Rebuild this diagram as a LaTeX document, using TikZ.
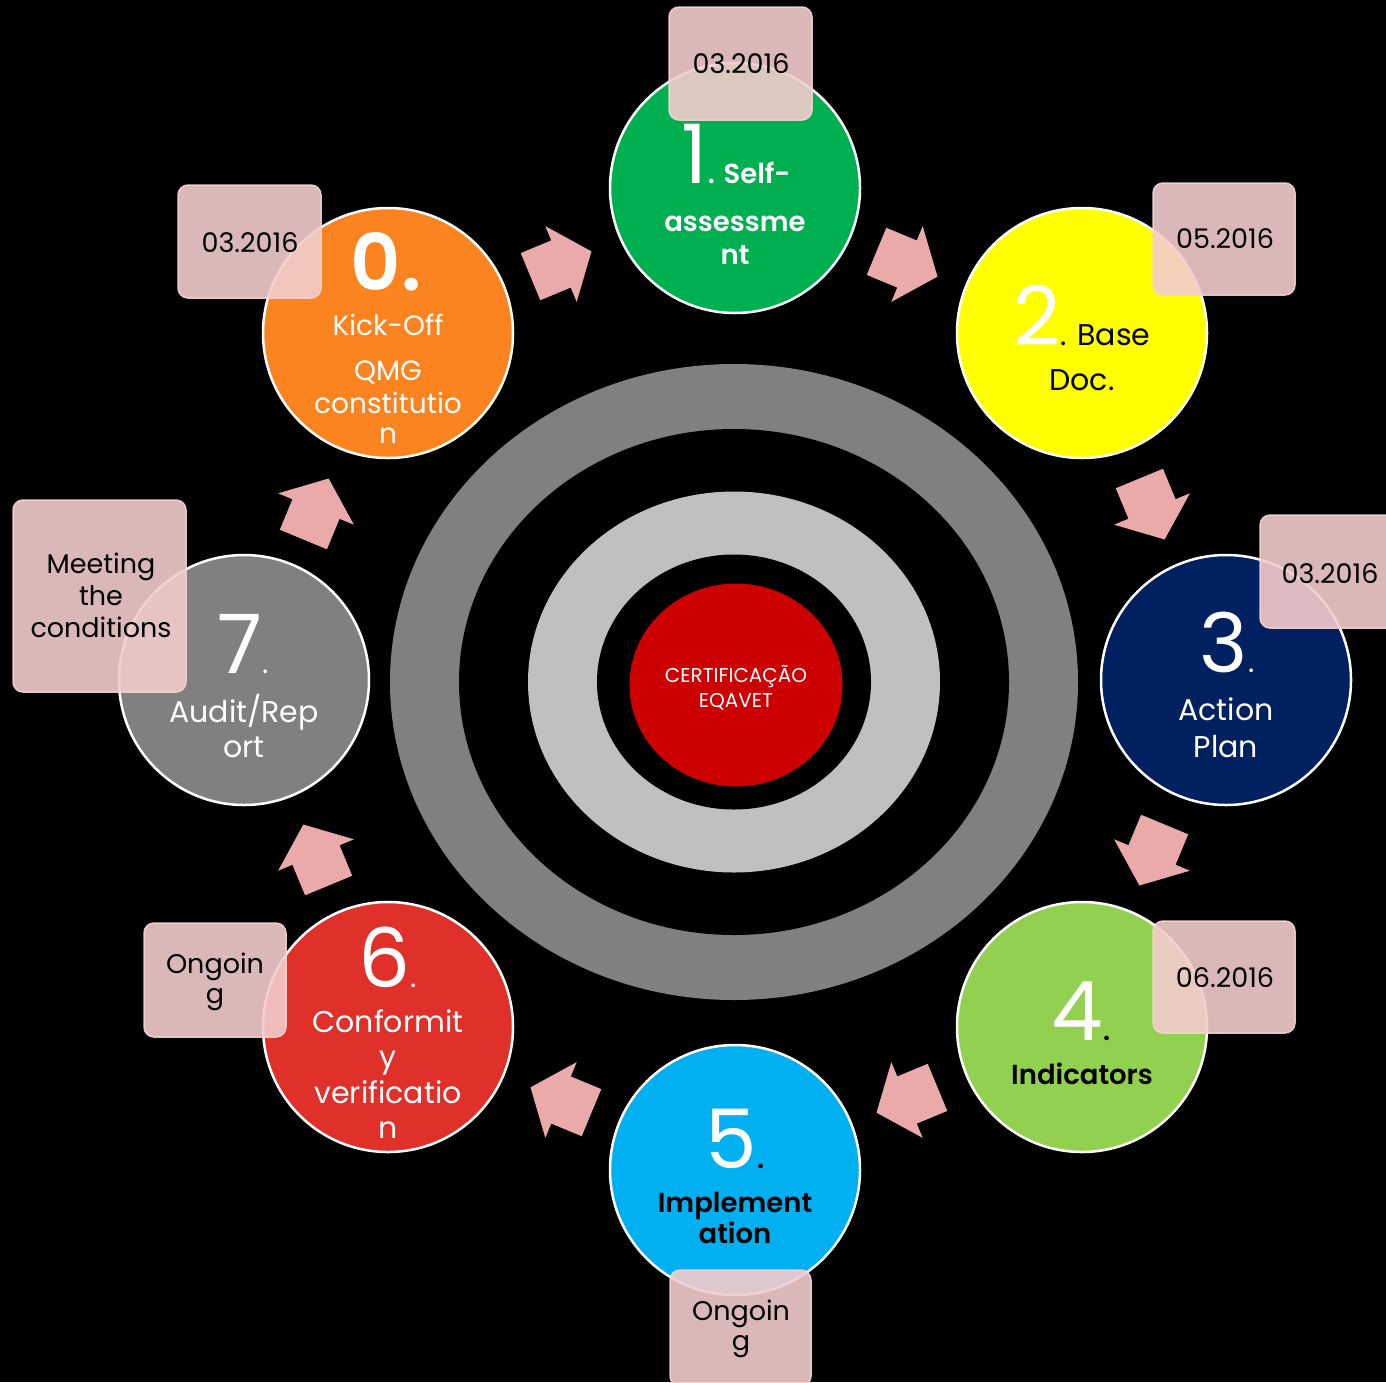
\documentclass[tikz,border=0pt]{standalone}
\usepackage{fontspec}
\setmainfont{Poppins}[BoldFont={* SemiBold}]
\usetikzlibrary{shapes.geometric}
\definecolor{ringgray}{HTML}{808080}
\definecolor{ringlight}{HTML}{C0C0C0}
\definecolor{corered}{HTML}{CC0000}
\definecolor{cgreen}{HTML}{00B050}
\definecolor{cyellow}{HTML}{FFFF00}
\definecolor{cnavy}{HTML}{002060}
\definecolor{clime}{HTML}{92D050}
\definecolor{ccyan}{HTML}{00B0F0}
\definecolor{cred}{HTML}{E0302A}
\definecolor{cgray}{HTML}{808080}
\definecolor{corange}{HTML}{FC8420}
\definecolor{arrowpink}{HTML}{EBAAAA}
\definecolor{boxpink}{HTML}{F3CCCC}
\definecolor{boxedge}{HTML}{F6D4D4}
\newcommand\bigd{\fontsize{82}{82}\selectfont}
\newcommand\ctx{\fontsize{30}{30}\selectfont}
\newcommand\btx{\fontsize{27.5}{27.5}\selectfont\bfseries}
\newcommand\dtx{\fontsize{27}{27}\selectfont}
\begin{document}
\begin{tikzpicture}[x=1pt,y=-1pt,
 tx/.style={inner sep=0pt, outer sep=0pt, anchor=base, text=white, font=\ctx},
 dt/.style={inner sep=0pt, outer sep=0pt, anchor=base, text=black, font=\dtx},
 ring/.style={ellipse, inner sep=0pt, outer sep=0pt},
 stage/.style={circle, minimum size=250pt, inner sep=0pt, draw=white, line width=2.5pt},
 datebox/.style={rectangle, rounded corners=10pt, fill=boxpink, fill opacity=0.9, draw=boxedge, draw opacity=0.9, line width=1.5pt, inner sep=0pt},
 blockarrow/.pic={\fill[arrowpink] (-33,-25.5) -- (0,-25.5) -- (0,-41) -- (33,0) -- (0,41) -- (0,25.5) -- (-33,25.5) -- cycle;}
]
\fill[black] (0,0) rectangle (1386,1382);
\useasboundingbox (0,0) rectangle (1386,1382);

% central rings
\node[ring, fill=ringgray, minimum width=688pt, minimum height=636pt] (r1) at (734,682) {};
\node[ring, fill=black, minimum width=550pt, minimum height=506pt] (r2) at (734,682) {};
\node[ring, fill=ringlight, minimum width=412pt, minimum height=381pt] (r3) at (734,682) {};
\node[ring, fill=black, minimum width=274pt, minimum height=255pt] (r4) at (734,682) {};
\node[ring, fill=corered, minimum width=213pt, minimum height=203pt] (core) at (736,685) {};
\node[tx, font=\fontsize{20}{20}\selectfont] (corea) at (736,682) {CERTIFICAÇÃO};
\node[tx, font=\fontsize{20}{20}\selectfont] (coreb) at (736,707) {EQAVET};

% arrows
\pic (a01) [rotate=22.5] at (561,264) {blockarrow};
\pic (a12) [rotate=-22.5] at (907,264) {blockarrow};
\pic (a23) [rotate=-67.5] at (1152,509) {blockarrow};
\pic (a34) [rotate=-112.5] at (1152,855) {blockarrow};
\pic (a45) [rotate=-157.5] at (907,1100) {blockarrow};
\pic (a56) [rotate=-202.5] at (561,1100) {blockarrow};
\pic (a67) [rotate=-247.5] at (316,855) {blockarrow};
\pic (a70) [rotate=-292.5] at (316,509) {blockarrow};

% stage circles
\node[stage, fill=corange] (s0) at (388,333) {};
\node[stage, fill=cgreen] (s1) at (735,188) {};
\node[stage, fill=cyellow] (s2) at (1082,333) {};
\node[stage, fill=cnavy] (s3) at (1226,680) {};
\node[stage, fill=clime] (s4) at (1082,1027) {};
\node[stage, fill=ccyan] (s5) at (735,1170) {};
\node[stage, fill=cred] (s6) at (388,1027) {};
\node[stage, fill=cgray] (s7) at (244,680) {};

% stage 0
\node[tx] (s0a) at (386,290) {\fontsize{78}{78}\selectfont\bfseries 0.};
\node[tx, font=\fontsize{28}{28}\selectfont] (s0b) at (388,335) {Kick-Off};
\node[tx, font=\fontsize{28}{28}\selectfont] (s0c) at (388,380) {QMG};
\node[tx, font=\fontsize{28}{28}\selectfont] (s0d) at (388,413) {constitutio};
\node[tx, font=\fontsize{28}{28}\selectfont] (s0e) at (388,443) {n};
% stage 1
\node[tx] (s1a) at (736,183) {{\bigd 1}{\btx . Self-}};
\node[tx, font=\btx] (s1b) at (735,231) {assessme};
\node[tx, font=\btx] (s1c) at (735,264) {nt};
% stage 2
\node[tx, text=black] (s2a) at (1082,345) {\textcolor{white}{\bigd 2}. Base};
\node[tx, text=black] (s2b) at (1082,390) {Doc.};
% stage 3
\node[tx] (s3a) at (1227,672) {{\bigd 3}.};
\node[tx] (s3b) at (1226,720) {Action};
\node[tx] (s3c) at (1226,757) {Plan};
% stage 4
\node[tx, text=black] (s4a) at (1081,1040) {\textcolor{white}{\bigd 4}{\btx .}};
\node[tx, text=black, font=\btx] (s4b) at (1082,1084) {Indicators};
% stage 5
\node[tx, text=black] (s5a) at (735,1168) {\textcolor{white}{\bigd 5}{\btx .}};
\node[tx, text=black, font=\btx] (s5b) at (735,1212) {Implement};
\node[tx, text=black, font=\btx] (s5c) at (735,1243) {ation};
% stage 6
\node[tx] (s6a) at (388,987) {{\bigd 6}.};
\node[tx] (s6b) at (388,1032) {Conformit};
\node[tx] (s6c) at (388,1067) {y};
\node[tx] (s6d) at (388,1103) {verificatio};
\node[tx] (s6e) at (388,1138) {n};
% stage 7
\node[tx] (s7a) at (243,673) {{\bigd 7}.};
\node[tx] (s7b) at (244,722) {Audit/Rep};
\node[tx] (s7c) at (244,757) {ort};

% date boxes
\node[datebox, minimum width=143pt, minimum height=113pt] (b0) at (249.5,241.5) {};
\node[datebox, minimum width=143pt, minimum height=113pt] (b1) at (740.5,63.5) {};
\node[datebox, minimum width=142pt, minimum height=112pt] (b2) at (1224,239) {};
\node[datebox, minimum width=142pt, minimum height=113pt] (b3) at (1331,571.5) {};
\node[datebox, minimum width=142pt, minimum height=112pt] (b4) at (1224,977) {};
\node[datebox, minimum width=141pt, minimum height=116pt] (b5) at (740.5,1328) {};
\node[datebox, minimum width=142pt, minimum height=114pt] (b6) at (215,980) {};
\node[datebox, minimum width=173pt, minimum height=192pt] (b7) at (99.5,596) {};

\node[dt] (b0t) at (250,252) {03.2016};
\node[dt] (b1t) at (741,73) {03.2016};
\node[dt] (b2t) at (1225,248) {05.2016};
\node[dt] (b3t) at (1330,583) {03.2016};
\node[dt] (b4t) at (1225,987) {06.2016};
\node[dt] (b5ta) at (741,1320) {Ongoin};
\node[dt] (b5tb) at (741,1350) {g};
\node[dt] (b6ta) at (215,973) {Ongoin};
\node[dt] (b6tb) at (215,1003) {g};
\node[dt] (b7ta) at (101,573) {Meeting};
\node[dt] (b7tb) at (101,605) {the};
\node[dt] (b7tc) at (101,637) {conditions};
\end{tikzpicture}
\end{document}
